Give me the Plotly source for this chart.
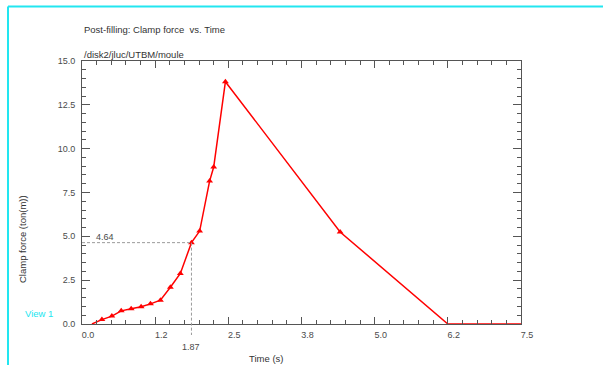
import plotly.graph_objects as go

# ---- data ----
time_s = [0.17, 0.34, 0.51, 0.67, 0.84, 1.01, 1.17, 1.34, 1.51, 1.68, 1.87, 2.01, 2.18, 2.25, 2.45, 4.41, 6.25, 7.5]
clamp_force = [0.0, 0.25, 0.45, 0.75, 0.87, 0.98, 1.15, 1.36, 2.10, 2.88, 4.64, 5.30, 8.15, 8.95, 13.82, 5.25, 0.0, 0.0]
has_marker = [0, 1, 1, 1, 1, 1, 1, 1, 1, 1, 1, 1, 1, 1, 1, 1, 0, 0]

x_tickvals = [0, 1.25, 2.5, 3.75, 5.0, 6.25, 7.5]
x_ticktext = ["0.0", "1.2", "2.5", "3.8", "5.0", "6.2", "7.5"]
y_tickvals = [0, 2.5, 5.0, 7.5, 10.0, 12.5, 15.0]
y_ticktext = ["0.0", "2.5", "5.0", "7.5", "10.0", "12.5", "15.0"]
x_range = [0, 7.5]
y_range = [0, 15.0]

cursor_t = 1.87
cursor_f = 4.64

title_text = "Post-filling: Clamp force  vs. Time"
subtitle_text = "/disk2/jluc/UTBM/moule"
x_title = "Time (s)"
y_title = "Clamp force (ton(m))"
view_text = "View 1"

# ---- styling ----
W, H = 603, 365
FONT = "Liberation Sans Narrow, Arial Narrow, Liberation Sans, sans-serif"
CYAN = "#22e6f0"
AXC = "#555555"
TXT = "#333333"

L, R, T, B = 82, 521, 61, 324
px = lambda v: v / W
py = lambda v: 1 - v / H

fig = go.Figure()
fig.add_trace(go.Scatter(
    x=time_s, y=clamp_force, mode="lines",
    line=dict(color="#ff0000", width=1.5),
    showlegend=False, hoverinfo="skip"))
fig.add_trace(go.Scatter(
    x=[t for t, m in zip(time_s, has_marker) if m],
    y=[f for f, m in zip(clamp_force, has_marker) if m],
    mode="markers",
    marker=dict(symbol="triangle-up", color="#ff0000", size=6),
    showlegend=False, hoverinfo="skip"))

axis_common = dict(
    showline=True, linecolor=AXC, linewidth=1, mirror="ticks",
    ticks="inside", tickcolor=AXC, tickwidth=1, showgrid=False, zeroline=False,
    automargin=False,
    tickfont=dict(family=FONT, size=9, color="#4a4a4a"),
)
fig.update_xaxes(
    range=x_range, domain=[px(L), px(R)], tickmode="array",
    tickvals=x_tickvals, ticktext=x_ticktext, ticklen=7,
    ticklabelshift=6, ticklabelstandoff=2,
    minor=dict(dtick=0.25, ticks="inside", ticklen=4, tickcolor=AXC, showgrid=False),
    **axis_common)
fig.update_yaxes(
    range=y_range, domain=[py(B), py(T)], tickmode="array",
    tickvals=y_tickvals, ticktext=y_ticktext, ticklen=8,
    ticklabelstandoff=4,
    minor=dict(dtick=0.5, ticks="inside", ticklen=4, tickcolor=AXC, showgrid=False),
    **axis_common)

# cursor lines
dash = dict(color="#9a9a9a", width=1, dash="3px,2px")
fig.add_shape(type="line", xref="x", yref="y", x0=x_range[0], x1=cursor_t,
              y0=cursor_f, y1=cursor_f, line=dash)
fig.add_shape(type="line", xref="x", yref="y domain", x0=cursor_t, x1=cursor_t,
              y0=cursor_f / y_range[1], y1=-11 / (B - T), line=dash)

annotations = [
    dict(text=title_text, x=px(L), y=py(29), xanchor="left", yanchor="middle",
         font=dict(size=9.5, color=TXT)),
    dict(text=subtitle_text, x=px(L), y=py(54), xanchor="left", yanchor="middle",
         font=dict(size=9.5, color=TXT)),
    dict(text=x_title, x=px(266), y=py(358), xanchor="center", yanchor="middle",
         font=dict(size=9.5, color=TXT)),
    dict(text=y_title, x=px(22), y=py(239), xanchor="center", yanchor="middle",
         textangle=-90, font=dict(size=9.5, color=TXT)),
    dict(text=view_text, x=px(23), y=py(313), xanchor="left", yanchor="middle",
         font=dict(size=9.5, color=CYAN)),
]
for a in annotations:
    a.update(xref="paper", yref="paper", showarrow=False)
    a["font"]["family"] = FONT
    fig.add_annotation(**a)

fig.add_annotation(text=f"{cursor_f:.2f}", xref="x", yref="y", x=x_range[0], y=cursor_f,
                   xanchor="left", yanchor="bottom", xshift=12, yshift=-1, showarrow=False,
                   font=dict(family=FONT, size=9, color="#4a4a4a"))
fig.add_annotation(text=f"{cursor_t:.2f}", xref="x", yref="y", x=cursor_t, y=y_range[0],
                   xanchor="center", yanchor="middle", yshift=-23, showarrow=False,
                   font=dict(family=FONT, size=9, color="#4a4a4a"))

# cyan frame
fig.add_shape(type="line", xref="paper", yref="paper", x0=px(8), x1=1.0, y0=py(6.5), y1=py(6.5),
              line=dict(color=CYAN, width=2))
fig.add_shape(type="line", xref="paper", yref="paper", x0=px(8), x1=px(8), y0=py(6.5), y1=0,
              line=dict(color=CYAN, width=2))

fig.update_layout(
    width=W, height=H, margin=dict(l=0, r=0, t=0, b=0, pad=0, autoexpand=False),
    paper_bgcolor="white", plot_bgcolor="white",
    font=dict(family=FONT, color=TXT),
)
fig.write_html(
    "out.html",
    config={"displayModeBar": False},
    post_script="document.body.style.margin='0';document.body.style.overflow='hidden';",
)
